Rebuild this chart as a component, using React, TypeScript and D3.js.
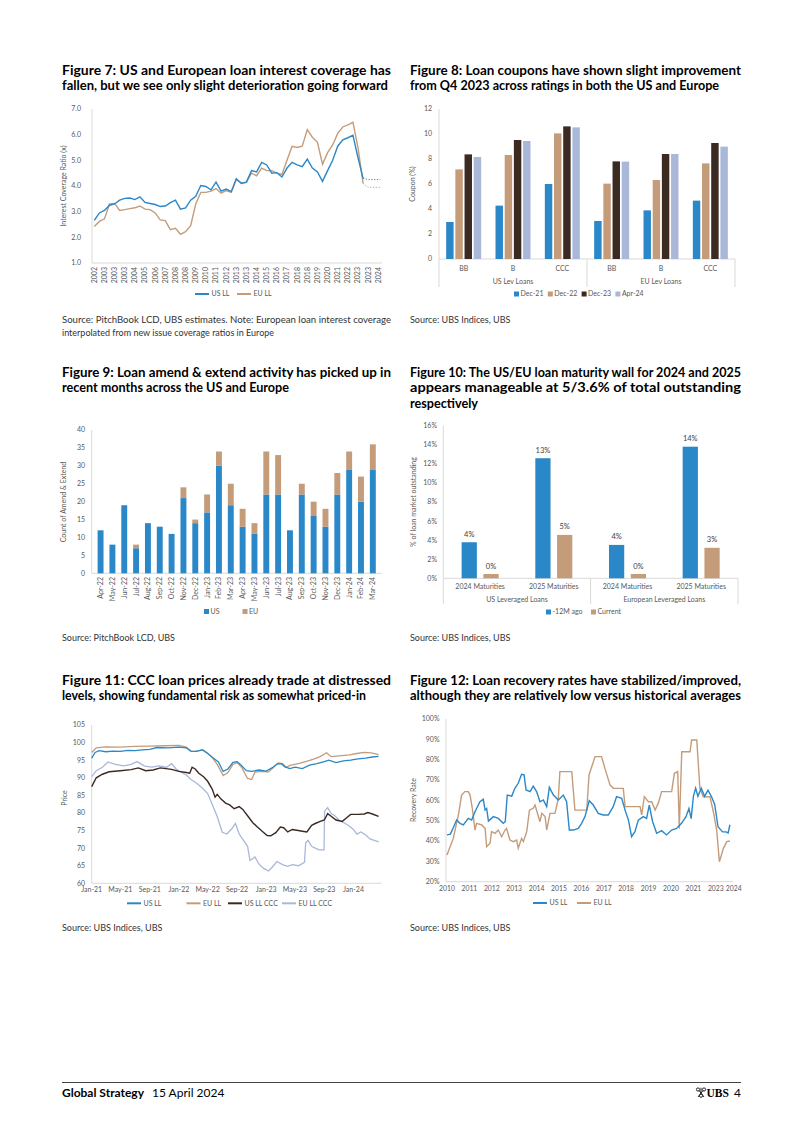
import React from "react";
import * as d3 from "d3";

const FONT = "Lato, 'Noto Sans', Arial, sans-serif";
const TICK = "#595959";
const AXIS = "#d9d9d9";
const BLUE = "#2a87c8";
const TAN = "#c49c7a";
const DARK = "#3a2a22";
const LIGHT = "#a9b8d8";

// ---------- Figure 7 data ----------
const covLabels = ["2002","2003","2003","2003","2004","2005","2006","2007","2008","2008","2009","2010","2011","2012","2013","2013","2014","2015","2016","2017","2018","2018","2019","2020","2021","2022","2023","2023","2024"];
const covUS = [2.66,2.95,3.05,3.25,3.3,3.45,3.52,3.53,3.47,3.58,3.36,3.32,3.28,3.2,3.22,3.35,3.45,3.1,3.15,3.45,3.6,4.02,3.98,3.85,4.15,3.8,3.88,3.78,4.28,4.1,4.15,4.6,4.55,4.92,4.82,4.5,4.52,4.35,4.7,4.92,4.82,4.75,5.05,4.7,4.55,4.18,4.6,5.0,5.55,5.8,5.88,5.98,5.1,4.3];
const covEU = [2.42,2.62,2.72,3.3,3.32,3.05,3.08,3.12,3.15,3.22,3.1,3.08,2.95,2.68,2.65,2.3,2.35,2.12,2.22,2.45,3.3,3.75,3.75,3.8,3.9,3.72,3.82,3.75,4.25,4.12,4.15,4.5,4.4,4.7,4.6,4.6,4.5,4.45,5.0,5.55,5.5,5.55,6.2,5.9,5.7,4.85,5.3,5.6,6.05,6.3,6.38,6.48,5.5,4.1];
const covUSProj = 4.25;
const covEUProj = 3.95;
const covYTicks = [1, 2, 3, 4, 5, 6, 7];

// ---------- Figure 8 data ----------
const cpnRatings = ["BB","B","CCC","BB","B","CCC"];
const cpnRegions = ["US Lev Loans","EU Lev Loans"];
const cpnSeries = ["Dec-21","Dec-22","Dec-23","Apr-24"];
const cpnDec21 = [2.96,4.27,6.0,3.04,3.89,4.67];
const cpnDec22 = [7.17,8.32,10.05,6.03,6.32,7.65];
const cpnDec23 = [8.37,9.52,10.61,7.81,8.4,9.28];
const cpnApr24 = [8.16,9.44,10.53,7.79,8.4,8.99];
const cpnYTicks = [0,2,4,6,8,10,12];

// ---------- Figure 9 data ----------
const aeMonths = ["Apr-22","May-22","Jun-22","Jul-22","Aug-22","Sep-22","Oct-22","Nov-22","Dec-22","Jan-23","Feb-23","Mar-23","Apr-23","May-23","Jun-23","Jul-23","Aug-23","Sep-23","Oct-23","Nov-23","Dec-23","Jan-24","Feb-24","Mar-24"];
const aeUS = [12,8,19,7,14,13,11,21,14,17,30,19,13,11,22,22,12,22,16,13,22,29,20,29];
const aeEU = [0,0,0,1,0,0,0,3,1,5,4,6,5,3,12,11,0,3,4,5,6,5,7,7];
const aeYTicks = [0,5,10,15,20,25,30,35,40];

// ---------- Figure 10 data ----------
const matCats = ["2024 Maturities","2025 Maturities","2024 Maturities","2025 Maturities"];
const matGroups = ["US Leveraged Loans","European Leveraged Loans"];
const mat12M = [3.78,12.59,3.5,13.8];
const matCurrent = [0.45,4.55,0.45,3.2];
const mat12MLabels = ["4%","13%","4%","14%"];
const matCurrentLabels = ["0%","5%","0%","3%"];
const matYTicks = [0,2,4,6,8,10,12,14,16];

// ---------- Figure 11 data ----------
const priceTickLabels = ["Jan-21","May-21","Sep-21","Jan-22","May-22","Sep-22","Jan-23","May-23","Sep-23","Jan-24"];
const priceYTicks = [60,65,70,75,80,85,90,95,100,105];
const priceUSLL: [string, number][] = [["2021-01-01",95.6],["2021-01-15",97.2],["2021-02-01",97.7],["2021-03-01",97.4],["2021-04-01",97.6],["2021-05-01",97.5],["2021-06-01",97.8],["2021-07-01",97.7],["2021-08-01",97.9],["2021-09-01",98.1],["2021-10-01",98.6],["2021-11-15",98.5],["2022-01-01",98.7],["2022-02-01",98.5],["2022-02-20",97.6],["2022-03-15",97.5],["2022-04-10",97.9],["2022-05-01",96.9],["2022-05-20",95.8],["2022-06-15",94.5],["2022-07-05",91.8],["2022-07-25",92.5],["2022-08-15",94.4],["2022-09-01",94.6],["2022-09-15",93.8],["2022-10-10",92.0],["2022-11-01",91.8],["2022-12-01",92.2],["2023-01-01",91.9],["2023-01-25",92.8],["2023-02-15",93.9],["2023-03-05",94.0],["2023-03-20",93.1],["2023-04-10",92.6],["2023-05-01",93.0],["2023-06-01",92.6],["2023-07-01",93.6],["2023-08-01",94.0],["2023-09-01",94.6],["2023-09-20",95.0],["2023-10-20",94.3],["2023-11-20",94.8],["2023-12-20",95.0],["2024-01-20",95.4],["2024-02-20",95.6],["2024-03-20",95.9],["2024-04-15",96.1]];
const priceEULL: [string, number][] = [["2021-01-01",97.2],["2021-01-20",98.5],["2021-03-01",98.8],["2021-05-01",98.7],["2021-07-01",98.9],["2021-09-01",99.0],["2021-11-01",99.1],["2022-01-01",99.2],["2022-02-01",98.7],["2022-02-20",97.5],["2022-03-15",97.6],["2022-04-10",98.0],["2022-05-01",97.0],["2022-05-20",95.8],["2022-06-10",93.8],["2022-07-05",90.6],["2022-07-25",91.5],["2022-08-15",93.8],["2022-09-01",94.3],["2022-09-20",93.0],["2022-10-15",89.8],["2022-11-01",89.5],["2022-11-15",91.6],["2022-12-15",91.8],["2023-01-10",91.6],["2023-02-01",93.0],["2023-02-20",94.2],["2023-03-10",94.0],["2023-03-25",93.0],["2023-04-15",93.6],["2023-05-15",94.0],["2023-06-15",94.6],["2023-07-15",95.2],["2023-08-15",96.0],["2023-09-10",97.1],["2023-09-30",96.0],["2023-11-01",96.2],["2023-12-15",96.5],["2024-01-15",96.9],["2024-02-15",97.2],["2024-03-15",97.1],["2024-04-15",96.6]];
const priceUSCCC: [string, number][] = [["2021-01-01",87.5],["2021-01-20",90.0],["2021-02-15",91.0],["2021-03-15",91.7],["2021-05-01",92.0],["2021-06-15",92.3],["2021-07-15",92.8],["2021-08-15",92.0],["2021-09-15",92.2],["2021-10-15",92.8],["2021-12-01",92.4],["2022-01-01",91.8],["2022-02-01",91.5],["2022-02-15",91.3],["2022-02-25",93.0],["2022-03-10",92.5],["2022-03-25",91.3],["2022-04-15",90.2],["2022-05-01",89.0],["2022-05-20",86.8],["2022-06-01",84.5],["2022-06-10",85.3],["2022-06-25",84.0],["2022-07-15",82.8],["2022-08-01",82.3],["2022-08-20",81.2],["2022-09-10",81.8],["2022-09-25",81.0],["2022-10-15",79.2],["2022-11-05",77.3],["2022-11-25",76.0],["2022-12-15",74.8],["2023-01-05",73.6],["2023-01-20",73.5],["2023-02-10",74.4],["2023-03-01",76.0],["2023-03-15",75.8],["2023-04-01",74.6],["2023-04-20",75.3],["2023-05-15",75.0],["2023-06-01",74.8],["2023-06-20",74.6],["2023-07-10",76.5],["2023-07-25",77.0],["2023-08-15",77.6],["2023-09-01",78.0],["2023-09-15",79.8],["2023-10-01",79.0],["2023-10-20",78.0],["2023-11-15",77.6],["2023-12-01",78.5],["2023-12-20",79.6],["2024-01-20",79.6],["2024-02-15",79.7],["2024-03-01",80.1],["2024-03-20",79.7],["2024-04-15",79.0]];
const priceEUCCC: [string, number][] = [["2021-01-01",90.3],["2021-01-20",92.0],["2021-02-15",93.0],["2021-03-10",94.5],["2021-04-10",93.8],["2021-05-15",93.4],["2021-06-15",93.8],["2021-07-10",94.6],["2021-08-10",93.3],["2021-09-10",93.0],["2021-10-10",93.4],["2021-11-10",93.0],["2021-12-01",94.0],["2021-12-20",92.5],["2022-01-10",91.6],["2022-02-01",90.8],["2022-02-20",89.5],["2022-03-15",88.5],["2022-04-10",87.0],["2022-05-01",85.5],["2022-05-20",82.5],["2022-06-10",79.0],["2022-07-01",74.5],["2022-07-20",74.0],["2022-08-10",75.5],["2022-08-25",77.0],["2022-09-10",74.0],["2022-09-25",72.5],["2022-10-15",70.5],["2022-10-25",66.5],["2022-11-15",67.5],["2022-12-01",65.5],["2022-12-20",64.3],["2023-01-10",63.5],["2023-01-25",64.5],["2023-02-15",66.2],["2023-03-10",65.3],["2023-04-01",64.8],["2023-04-20",65.3],["2023-05-15",65.0],["2023-06-01",65.6],["2023-06-10",66.0],["2023-06-15",71.5],["2023-06-25",72.2],["2023-07-10",70.5],["2023-07-25",70.0],["2023-08-10",69.5],["2023-08-31",69.5],["2023-09-02",80.5],["2023-09-15",81.5],["2023-09-30",79.8],["2023-10-15",79.2],["2023-11-01",78.0],["2023-11-20",77.3],["2023-12-10",76.5],["2024-01-01",75.3],["2024-01-15",74.0],["2024-02-01",74.6],["2024-02-20",73.8],["2024-03-10",72.6],["2024-04-15",71.8]];

// ---------- Figure 12 data ----------
const recTickLabels = ["2010","2011","2012","2013","2014","2015","2016","2017","2018","2019","2020","2021","2023","2024"];
const recTickSlots = [0,1,2,3,4,5,6,7,8,9,10,11,12,12.8];
const recYTicks = [20,30,40,50,60,70,80,90,100];
const recUS: [number, number][] = [[0,43],[0.15,43.4],[0.28,46.5],[0.43,50.3],[0.58,48.7],[0.73,47.9],[0.95,51.1],[1.1,50.3],[1.25,54.4],[1.47,59.3],[1.62,60.5],[1.7,55.2],[1.77,56],[1.85,49.8],[2.07,52],[2.29,51.1],[2.51,48.7],[2.6,49.5],[2.69,62.6],[2.89,62.1],[3.03,65.9],[3.18,68.4],[3.33,72.8],[3.44,72.5],[3.53,65.1],[3.71,64.3],[3.85,67],[4.0,64.3],[4.15,59.3],[4.3,60.2],[4.45,56.9],[4.57,66.4],[4.75,62.6],[4.97,60.2],[5.19,62.6],[5.34,59.3],[5.46,45.4],[5.64,45.4],[5.86,46.2],[6.01,48.7],[6.16,52],[6.35,59.8],[6.53,57.7],[6.75,53.6],[6.98,52.8],[7.2,52.8],[7.42,56.9],[7.57,61.8],[7.8,61],[7.95,55.2],[8.1,50.3],[8.24,42.1],[8.39,44.6],[8.54,50.3],[8.76,52],[8.91,51.1],[9.03,57.7],[9.18,49.5],[9.36,43.8],[9.58,45.1],[9.8,43],[10.03,45.4],[10.25,46.2],[10.47,48.7],[10.67,52],[10.8,56],[10.9,51],[11.0,62],[11.1,66],[11.2,62],[11.35,66],[11.5,62],[11.65,65],[11.8,62],[11.95,58],[12.1,47],[12.3,44.5],[12.45,44.5],[12.55,44],[12.63,48]];
const recEU: [number, number][] = [[0,33.1],[0.28,41.3],[0.51,52.8],[0.65,62.6],[0.8,64.3],[0.95,64.3],[1.03,62.6],[1.13,56.1],[1.25,45.4],[1.32,48.7],[1.55,47.9],[1.7,46.2],[1.77,37.2],[1.92,38.9],[1.99,44.6],[2.14,43.8],[2.29,45.4],[2.44,42.1],[2.59,45.4],[2.66,46.2],[2.81,40.5],[2.96,39.7],[3.11,40.5],[3.18,36.4],[3.33,41.3],[3.41,39.7],[3.56,44.6],[3.68,55.2],[3.85,56.1],[3.93,57.7],[4.15,49.5],[4.23,53.6],[4.38,52],[4.45,45.4],[4.6,53.6],[4.82,53.6],[4.97,61],[5.04,74.1],[5.57,74.1],[5.71,55.2],[6.24,55.2],[6.34,72.5],[6.61,81.5],[6.9,81.5],[7.05,75.7],[7.28,67.5],[7.43,65.9],[7.87,65.9],[7.95,56.9],[8.62,56.9],[8.69,52.8],[8.81,61.8],[8.99,59.3],[9.14,59.3],[9.29,55.2],[9.43,58.5],[9.58,64.3],[10.03,64.3],[10.15,73.3],[10.3,74.1],[10.37,46.2],[10.48,83.9],[10.85,83.9],[10.92,89.7],[11.15,89.7],[11.29,65.9],[11.44,61.8],[11.74,61.8],[11.89,54.4],[12.04,45.4],[12.16,29.8],[12.34,36.4],[12.49,39.7],[12.63,40]];

// ---------- helpers ----------
function Title({ x, y, lines }: { x: number; y: number; lines: [string, number][] }) {
  return (
    <g>
      {lines.map(([t, w], i) => (
        <text key={i} x={x} y={y + i * 15.5} fontFamily={FONT} fontWeight={700} fontSize={12.5} fill="#000"
          textLength={w} lengthAdjust="spacingAndGlyphs">{t}</text>
      ))}
    </g>
  );
}

function Source({ x, y, text, w }: { x: number; y: number; text: string; w?: number }) {
  return (
    <text x={x} y={y} fontFamily={FONT} fontSize={9} fill="#333"
      {...(w ? { textLength: w, lengthAdjust: "spacingAndGlyphs" } : {})}>{text}</text>
  );
}

function YTitle({ x, y, text }: { x: number; y: number; text: string }) {
  return (
    <text transform={`translate(${x},${y}) rotate(-90)`} textAnchor="middle" fontFamily={FONT} fontSize={7} fill={TICK}>{text}</text>
  );
}

function LegendLine({ x, y, color, label }: { x: number; y: number; color: string; label: string }) {
  return (
    <g>
      <line x1={x} x2={x + 14} y1={y} y2={y} stroke={color} strokeWidth={2} />
      <text x={x + 16.5} y={y} dy="0.35em" fontFamily={FONT} fontSize={7} fill={TICK}>{label}</text>
    </g>
  );
}

function LegendBox({ x, y, color, label }: { x: number; y: number; color: string; label: string }) {
  return (
    <g>
      <rect x={x} y={y - 2.5} width={5} height={5} fill={color} />
      <text x={x + 6.5} y={y} dy="0.35em" fontFamily={FONT} fontSize={7} fill={TICK}>{label}</text>
    </g>
  );
}

// ---------- Figure 7 ----------
function Fig7() {
  const x = d3.scaleLinear().domain([0, 28]).range([94.3, 378.3]);
  const y = d3.scaleLinear().domain([1, 7]).range([263, 109]);
  const line = d3.line<number>().x((_, i) => x(i / 2)).y((d) => y(d));
  const last = covUS.length - 1;
  const proj = d3.line<[number, number]>().x((d) => x(d[0])).y((d) => y(d[1]));
  const usP: [number, number][] = [[last / 2, covUS[last]], [27, covUSProj], [28.2, covUSProj]];
  const euP: [number, number][] = [[last / 2, covEU[last]], [27, covEUProj], [28.2, covEUProj]];
  return (
    <g>
      <line x1={92} x2={92} y1={109} y2={263} stroke={AXIS} />
      <line x1={92} x2={382} y1={263} y2={263} stroke={AXIS} />
      {covYTicks.map((t) => (
        <text key={t} x={81} y={y(t)} dy="0.35em" textAnchor="end" fontFamily={FONT} fontSize={7} fill={TICK}>{t.toFixed(1)}</text>
      ))}
      {covLabels.map((l, i) => (
        <text key={i} transform={`translate(${x(i)},267) rotate(-90)`} dy="0.35em" textAnchor="end" fontFamily={FONT} fontSize={7} fill={TICK}>{l}</text>
      ))}
      <path d={line(covEU) || ""} fill="none" stroke={TAN} strokeWidth={1.4} />
      <path d={line(covUS) || ""} fill="none" stroke={BLUE} strokeWidth={1.4} />
      <path d={proj(usP) || ""} fill="none" stroke={BLUE} strokeWidth={1} strokeDasharray="1.2,1.6" />
      <path d={proj(euP) || ""} fill="none" stroke={TAN} strokeWidth={1} strokeDasharray="1.2,1.6" />
      <YTitle x={66} y={186} text="Interest Coverage Ratio (x)" />
      <LegendLine x={195} y={294} color={BLUE} label="US LL" />
      <LegendLine x={237} y={294} color={TAN} label="EU LL" />
    </g>
  );
}

// ---------- Figure 8 ----------
function Fig8() {
  const x = d3.scaleBand<number>().domain(d3.range(cpnRatings.length)).range([439, 735]);
  const y = d3.scaleLinear().domain([0, 12]).range([259, 109]);
  const vals = [cpnDec21, cpnDec22, cpnDec23, cpnApr24];
  const colors = [BLUE, TAN, DARK, LIGHT];
  const bw = x.bandwidth();
  return (
    <g>
      <line x1={439} x2={439} y1={109} y2={287} stroke={AXIS} />
      <line x1={439} x2={735} y1={259} y2={259} stroke={AXIS} />
      <line x1={587} x2={587} y1={259} y2={287} stroke={AXIS} />
      <line x1={735} x2={735} y1={259} y2={287} stroke={AXIS} />
      {cpnYTicks.map((t) => (
        <text key={t} x={432} y={y(t)} dy="0.35em" textAnchor="end" fontFamily={FONT} fontSize={7} fill={TICK}>{t}</text>
      ))}
      {cpnRatings.map((r, i) => {
        const c = (x(i) as number) + bw / 2;
        const sub = d3.scaleBand<string>().domain(cpnSeries).range([c - 17.5, c + 17.5]).paddingInner(0.19);
        return (
          <g key={i}>
            {cpnSeries.map((s, j) => (
              <rect key={s} x={sub(s)} y={y(vals[j][i])} width={sub.bandwidth()} height={y(0) - y(vals[j][i])} fill={colors[j]} />
            ))}
            <text x={c} y={268.5} dy="0.35em" textAnchor="middle" fontFamily={FONT} fontSize={7} fill={TICK}>{r}</text>
          </g>
        );
      })}
      {cpnRegions.map((g, i) => (
        <text key={g} x={(x(i * 3) as number) + bw * 1.5} y={281.5} dy="0.35em" textAnchor="middle" fontFamily={FONT} fontSize={7} fill={TICK}>{g}</text>
      ))}
      <YTitle x={415} y={184} text="Coupon (%)" />
      {cpnSeries.map((s, j) => (
        <LegendBox key={s} x={514 + j * 33.8} y={294} color={colors[j]} label={s} />
      ))}
    </g>
  );
}

// ---------- Figure 9 ----------
function Fig9() {
  const x = d3.scaleBand<string>().domain(aeMonths).range([91.7, 381.7]).padding(0.5);
  const y = d3.scaleLinear().domain([0, 40]).range([573.3, 430]);
  const stack = d3.stack<number>().keys(["us", "eu"]).value((i, k) => (k === "us" ? aeUS[i] : aeEU[i]));
  const series = stack(d3.range(aeMonths.length));
  const colors = [BLUE, TAN];
  return (
    <g>
      <line x1={91.7} x2={91.7} y1={430} y2={573.3} stroke={AXIS} />
      <line x1={91.7} x2={381.7} y1={573.3} y2={573.3} stroke={AXIS} />
      {aeYTicks.map((t) => (
        <text key={t} x={85} y={y(t)} dy="0.35em" textAnchor="end" fontFamily={FONT} fontSize={7} fill={TICK}>{t}</text>
      ))}
      {series.map((s, si) => (
        <g key={si}>
          {s.map((d, i) => (
            d[1] > d[0] ? <rect key={i} x={x(aeMonths[i])} y={y(d[1])} width={x.bandwidth()} height={y(d[0]) - y(d[1])} fill={colors[si]} /> : null
          ))}
        </g>
      ))}
      {aeMonths.map((m) => (
        <text key={m} transform={`translate(${(x(m) as number) + x.bandwidth() / 2},577) rotate(-90)`} dy="0.35em" textAnchor="end" fontFamily={FONT} fontSize={7} fill={TICK}>{m}</text>
      ))}
      <YTitle x={66} y={502} text="Count of Amend & Extend" />
      <LegendBox x={204} y={611.5} color={BLUE} label="US" />
      <LegendBox x={242.5} y={611.5} color={TAN} label="EU" />
    </g>
  );
}

// ---------- Figure 10 ----------
function Fig10() {
  const x = d3.scaleBand<number>().domain(d3.range(matCats.length)).range([443.3, 738]);
  const y = d3.scaleLinear().domain([0, 16]).range([578.3, 425.7]);
  const bw = x.bandwidth();
  const vals = [mat12M, matCurrent];
  const labs = [mat12MLabels, matCurrentLabels];
  const colors = [BLUE, TAN];
  return (
    <g>
      <line x1={443.3} x2={443.3} y1={425.7} y2={604} stroke={AXIS} />
      <line x1={443.3} x2={738} y1={578.3} y2={578.3} stroke={AXIS} />
      <line x1={590.6} x2={590.6} y1={578.3} y2={604} stroke={AXIS} />
      <line x1={738} x2={738} y1={578.3} y2={604} stroke={AXIS} />
      {matYTicks.map((t) => (
        <text key={t} x={437} y={y(t)} dy="0.35em" textAnchor="end" fontFamily={FONT} fontSize={7} fill={TICK}>{t}%</text>
      ))}
      {matCats.map((c, i) => {
        const cx = (x(i) as number) + bw / 2;
        const sub = d3.scaleBand<number>().domain([0, 1]).range([cx - 18.5, cx + 18.5]).paddingInner(0.3);
        return (
          <g key={i}>
            {vals.map((v, j) => (
              <g key={j}>
                <rect x={sub(j)} y={y(v[i])} width={sub.bandwidth()} height={y(0) - y(v[i])} fill={colors[j]} />
                <text x={(sub(j) as number) + sub.bandwidth() / 2} y={y(v[i]) - 5.5} textAnchor="middle" fontFamily={FONT} fontSize={7.5} fill="#404040">{labs[j][i]}</text>
              </g>
            ))}
            <text x={cx} y={587} dy="0.35em" textAnchor="middle" fontFamily={FONT} fontSize={7} fill={TICK}>{c}</text>
          </g>
        );
      })}
      {matGroups.map((g, i) => (
        <text key={g} x={(x(i * 2) as number) + bw} y={599.5} dy="0.35em" textAnchor="middle" fontFamily={FONT} fontSize={7} fill={TICK}>{g}</text>
      ))}
      <YTitle x={416} y={502} text="% of loan market outstanding" />
      <LegendBox x={546} y={612} color={BLUE} label="-12M ago" />
      <LegendBox x={591} y={612} color={TAN} label="Current" />
    </g>
  );
}

// ---------- Figure 11 ----------
function Fig11() {
  const parseDay = d3.timeParse("%Y-%m-%d");
  const parseMon = d3.timeParse("%b-%y");
  const x = d3.scaleTime().domain([new Date(2021, 0, 1), new Date(2024, 3, 28)]).range([91.7, 381.7]);
  const y = d3.scaleLinear().domain([60, 105]).range([883.3, 725]);
  const line = d3.line<[string, number]>().x((d) => x(parseDay(d[0]) as Date)).y((d) => y(d[1]));
  return (
    <g>
      <line x1={91.7} x2={91.7} y1={725} y2={883.3} stroke={AXIS} />
      <line x1={91.7} x2={381.7} y1={883.3} y2={883.3} stroke={AXIS} />
      {priceYTicks.map((t) => (
        <text key={t} x={85} y={y(t)} dy="0.35em" textAnchor="end" fontFamily={FONT} fontSize={7} fill={TICK}>{t}</text>
      ))}
      {priceTickLabels.map((l) => (
        <text key={l} x={x(parseMon(l) as Date)} y={890} dy="0.35em" textAnchor="middle" fontFamily={FONT} fontSize={7} fill={TICK}>{l}</text>
      ))}
      <path d={line(priceEUCCC) || ""} fill="none" stroke={LIGHT} strokeWidth={1.3} />
      <path d={line(priceUSCCC) || ""} fill="none" stroke={DARK} strokeWidth={1.4} />
      <path d={line(priceEULL) || ""} fill="none" stroke={TAN} strokeWidth={1.3} />
      <path d={line(priceUSLL) || ""} fill="none" stroke={BLUE} strokeWidth={1.3} />
      <YTitle x={67} y={798} text="Price" />
      <LegendLine x={127} y={903.3} color={BLUE} label="US LL" />
      <LegendLine x={186.5} y={903.3} color={TAN} label="EU LL" />
      <LegendLine x={228} y={903.3} color={DARK} label="US LL CCC" />
      <LegendLine x={282} y={903.3} color={LIGHT} label="EU LL CCC" />
    </g>
  );
}

// ---------- Figure 12 ----------
function Fig12() {
  const x = d3.scaleLinear().domain([0, 12.5]).range([447, 727]);
  const y = d3.scaleLinear().domain([20, 100]).range([881.7, 719]);
  const line = d3.line<[number, number]>().x((d) => x(d[0])).y((d) => y(d[1]));
  return (
    <g>
      <line x1={446} x2={446} y1={719} y2={881.7} stroke={AXIS} />
      <line x1={446} x2={733} y1={881.7} y2={881.7} stroke={AXIS} />
      {recYTicks.map((t) => (
        <text key={t} x={439.5} y={y(t)} dy="0.35em" textAnchor="end" fontFamily={FONT} fontSize={7} fill={TICK}>{t}%</text>
      ))}
      {recTickLabels.map((l, i) => (
        <text key={i} x={x(recTickSlots[i])} y={889} dy="0.35em" textAnchor="middle" fontFamily={FONT} fontSize={6.8} fill={TICK}>{l}</text>
      ))}
      <path d={line(recEU) || ""} fill="none" stroke={TAN} strokeWidth={1.4} />
      <path d={line(recUS) || ""} fill="none" stroke={BLUE} strokeWidth={1.4} />
      <YTitle x={416} y={800} text="Recovery Rate" />
      <LegendLine x={533} y={903} color={BLUE} label="US LL" />
      <LegendLine x={577} y={903} color={TAN} label="EU LL" />
    </g>
  );
}

function Footer() {
  return (
    <g>
      <line x1={62} x2={741} y1={1082.5} y2={1082.5} stroke="#444" strokeWidth={1} />
      <text x={62} y={1097} fontFamily={FONT} fontWeight={700} fontSize={12} fill="#000">Global Strategy</text>
      <text x={152} y={1097} fontFamily={FONT} fontSize={12} fill="#000">15 April 2024</text>
      <g transform="translate(701,1092.5)" stroke="#222" strokeWidth={1} fill="none">
        <circle cx={-3} cy={-3} r={1.6} />
        <circle cx={3} cy={-3} r={1.6} />
        <circle cx={0} cy={3.2} r={1.6} />
        <line x1={-2} y1={-2} x2={3} y2={4.5} />
        <line x1={2} y1={-2} x2={-3} y2={4.5} />
        <line x1={0} y1={1.6} x2={0} y2={-4.8} />
      </g>
      <text x={706.5} y={1097} fontFamily="'Liberation Serif', serif" fontWeight={700} fontSize={11.5} fill="#000">UBS</text>
      <text x={741} y={1097} textAnchor="end" fontFamily={FONT} fontSize={12} fill="#000">4</text>
    </g>
  );
}

export default function App() {
  return (
    <svg width={802} height={1134} viewBox="0 0 802 1134" style={{ position: "absolute", left: 0, top: 0, background: "#fff" }}>
      <rect width={802} height={1134} fill="#fff" />
      <Title x={62} y={74.5} lines={[["Figure 7: US and European loan interest coverage has", 329], ["fallen, but we see only slight deterioration going forward", 326]]} />
      <Title x={410} y={74.5} lines={[["Figure 8: Loan coupons have shown slight improvement", 331], ["from Q4 2023 across ratings in both the US and Europe", 309]]} />
      <Fig7 />
      <Fig8 />
      <Source x={62} y={323} text="Source: PitchBook LCD, UBS estimates. Note: European loan interest coverage" w={329} />
      <Source x={62} y={336} text="interpolated from new issue coverage ratios in Europe" />
      <Source x={410} y={323} text="Source: UBS Indices, UBS" />

      <Title x={62} y={376.5} lines={[["Figure 9: Loan amend & extend activity has picked up in", 329], ["recent months across the US and Europe", 227]]} />
      <Title x={410} y={376.5} lines={[["Figure 10: The US/EU loan maturity wall for 2024 and 2025", 331], ["appears manageable at 5/3.6% of total outstanding", 331], ["respectively", 68]]} />
      <Fig9 />
      <Fig10 />
      <Source x={62} y={641} text="Source: PitchBook LCD, UBS" />
      <Source x={410} y={641} text="Source: UBS Indices, UBS" />

      <Title x={62} y={684.5} lines={[["Figure 11: CCC loan prices already trade at distressed", 329], ["levels, showing fundamental risk as somewhat priced-in", 304]]} />
      <Title x={410} y={684.5} lines={[["Figure 12: Loan recovery rates have stabilized/improved,", 331], ["although they are relatively low versus historical averages", 331]]} />
      <Fig11 />
      <Fig12 />
      <Source x={62} y={931} text="Source: UBS Indices, UBS" />
      <Source x={410} y={931} text="Source: UBS Indices, UBS" />

      <Footer />
    </svg>
  );
}
